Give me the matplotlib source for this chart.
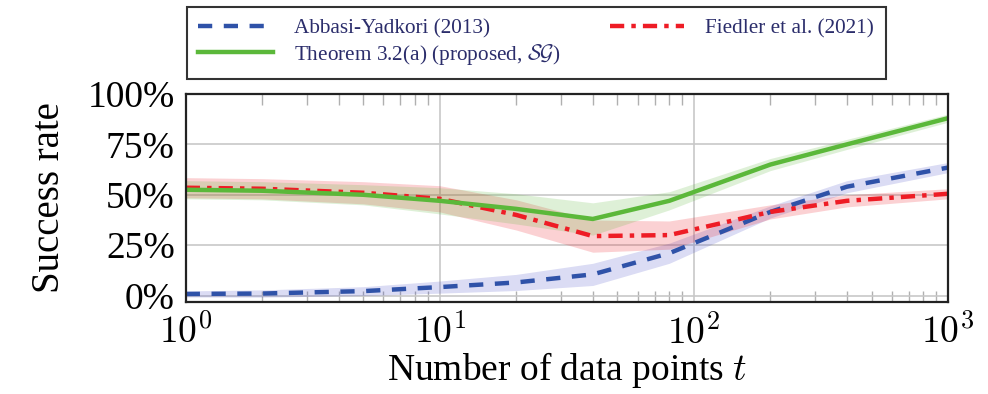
import numpy as np
import matplotlib
matplotlib.use("Agg")
import matplotlib.pyplot as plt
from matplotlib.ticker import FixedLocator, FuncFormatter, LogLocator, NullFormatter

# data
t = [1, 2, 5, 10, 20, 40, 80, 200, 400, 1000]

abbasi = [0.8, 1.0, 2.2, 4.2, 6.5, 10.5, 21.0, 41.5, 54.0, 63.5]
abbasi_sd = [1.5, 1.8, 2.2, 3.0, 4.0, 5.5, 5.0, 3.0, 3.0, 2.5]

fiedler = [53.5, 53.0, 51.0, 48.0, 40.0, 29.5, 30.0, 41.5, 47.0, 50.5]
fiedler_sd = [5.0, 5.0, 5.5, 6.5, 7.5, 8.0, 7.0, 3.5, 3.0, 2.5]

theorem = [52.5, 52.0, 50.0, 47.0, 43.0, 38.0, 47.0, 65.0, 75.0, 88.0]
theorem_sd = [4.5, 4.5, 5.0, 6.5, 7.5, 8.0, 4.5, 3.0, 2.5, 2.0]

yticks = [0, 25, 50, 75, 100]

plt.rcParams['font.family'] = ['Liberation Serif', 'DejaVu Serif']
plt.rcParams['mathtext.fontset'] = 'cm'

blue = '#2f52a8'
red = '#ee1c25'
green = '#5bb83a'

fig = plt.figure(figsize=(9.88, 3.94), dpi=100)
ax = fig.add_axes([0.188, 0.2335, 0.7715, 0.5279])

def band(y, sd, c):
    y = np.array(y)
    sd = np.array(sd)
    ax.fill_between(t, y - sd, y + sd, color=c, alpha=0.2, lw=0)

band(abbasi, abbasi_sd, '#4b50c8')
band(fiedler, fiedler_sd, red)
band(theorem, theorem_sd, green)

l1, = ax.plot(t, abbasi, color=blue, lw=3.2, dashes=(3.2, 2.6), label='Abbasi-Yadkori (2013)')
l3, = ax.plot(t, fiedler, color=red, lw=3.2, dashes=(3.2, 1.6, 1.0, 1.6), label='Fiedler et al. (2021)')
l2, = ax.plot(t, theorem, color=green, lw=3.2, label=r'Theorem 3.2(a) (proposed, $\mathcal{SG}$)')

ax.set_xscale('log')
ax.set_xlim(1, 1000)
ax.set_ylim(-3.2, 100)
ax.yaxis.set_major_locator(FixedLocator(yticks))
ax.yaxis.set_major_formatter(FuncFormatter(lambda v, p: '%d%%' % v))
ax.xaxis.set_major_formatter(FuncFormatter(lambda v, p: r'$10^{%d}$' % round(np.log10(v))))
ax.xaxis.set_minor_locator(LogLocator(base=10, subs=np.arange(2, 10)))
ax.xaxis.set_minor_formatter(NullFormatter())

ax.grid(True, which='major', color='#c8c8c8', lw=1.2)
ax.set_axisbelow(True)
ax.tick_params(which='both', direction='in', top=True, right=True, colors='#b0b0b0',
               labelcolor='black', labelsize=27)
ax.tick_params(which='minor', length=8, width=1)
ax.tick_params(which='major', length=0, pad=8)
ax.tick_params(axis='x', which='major', pad=9)
for s in ax.spines.values():
    s.set_linewidth(1.6)
    s.set_color('#222222')

ax.set_ylabel('Success rate', fontsize=28, labelpad=14)
ax.set_xlabel('Number of data points $t$', fontsize=27, labelpad=-1)

leg = fig.legend(handles=[l1, l2, l3], loc='upper left', bbox_to_anchor=(0.189, 0.982),
                 ncol=2, fontsize=15.3, frameon=True, fancybox=False, handlelength=3.5,
                 columnspacing=2.3, borderpad=0.55, labelspacing=0.15, handletextpad=1.0,
                 borderaxespad=0)
leg.get_frame().set_edgecolor('black')
leg.get_frame().set_linewidth(1.5)
for txt in leg.get_texts():
    txt.set_color('#2b2d6b')

fig.savefig('out.png', dpi=100)
